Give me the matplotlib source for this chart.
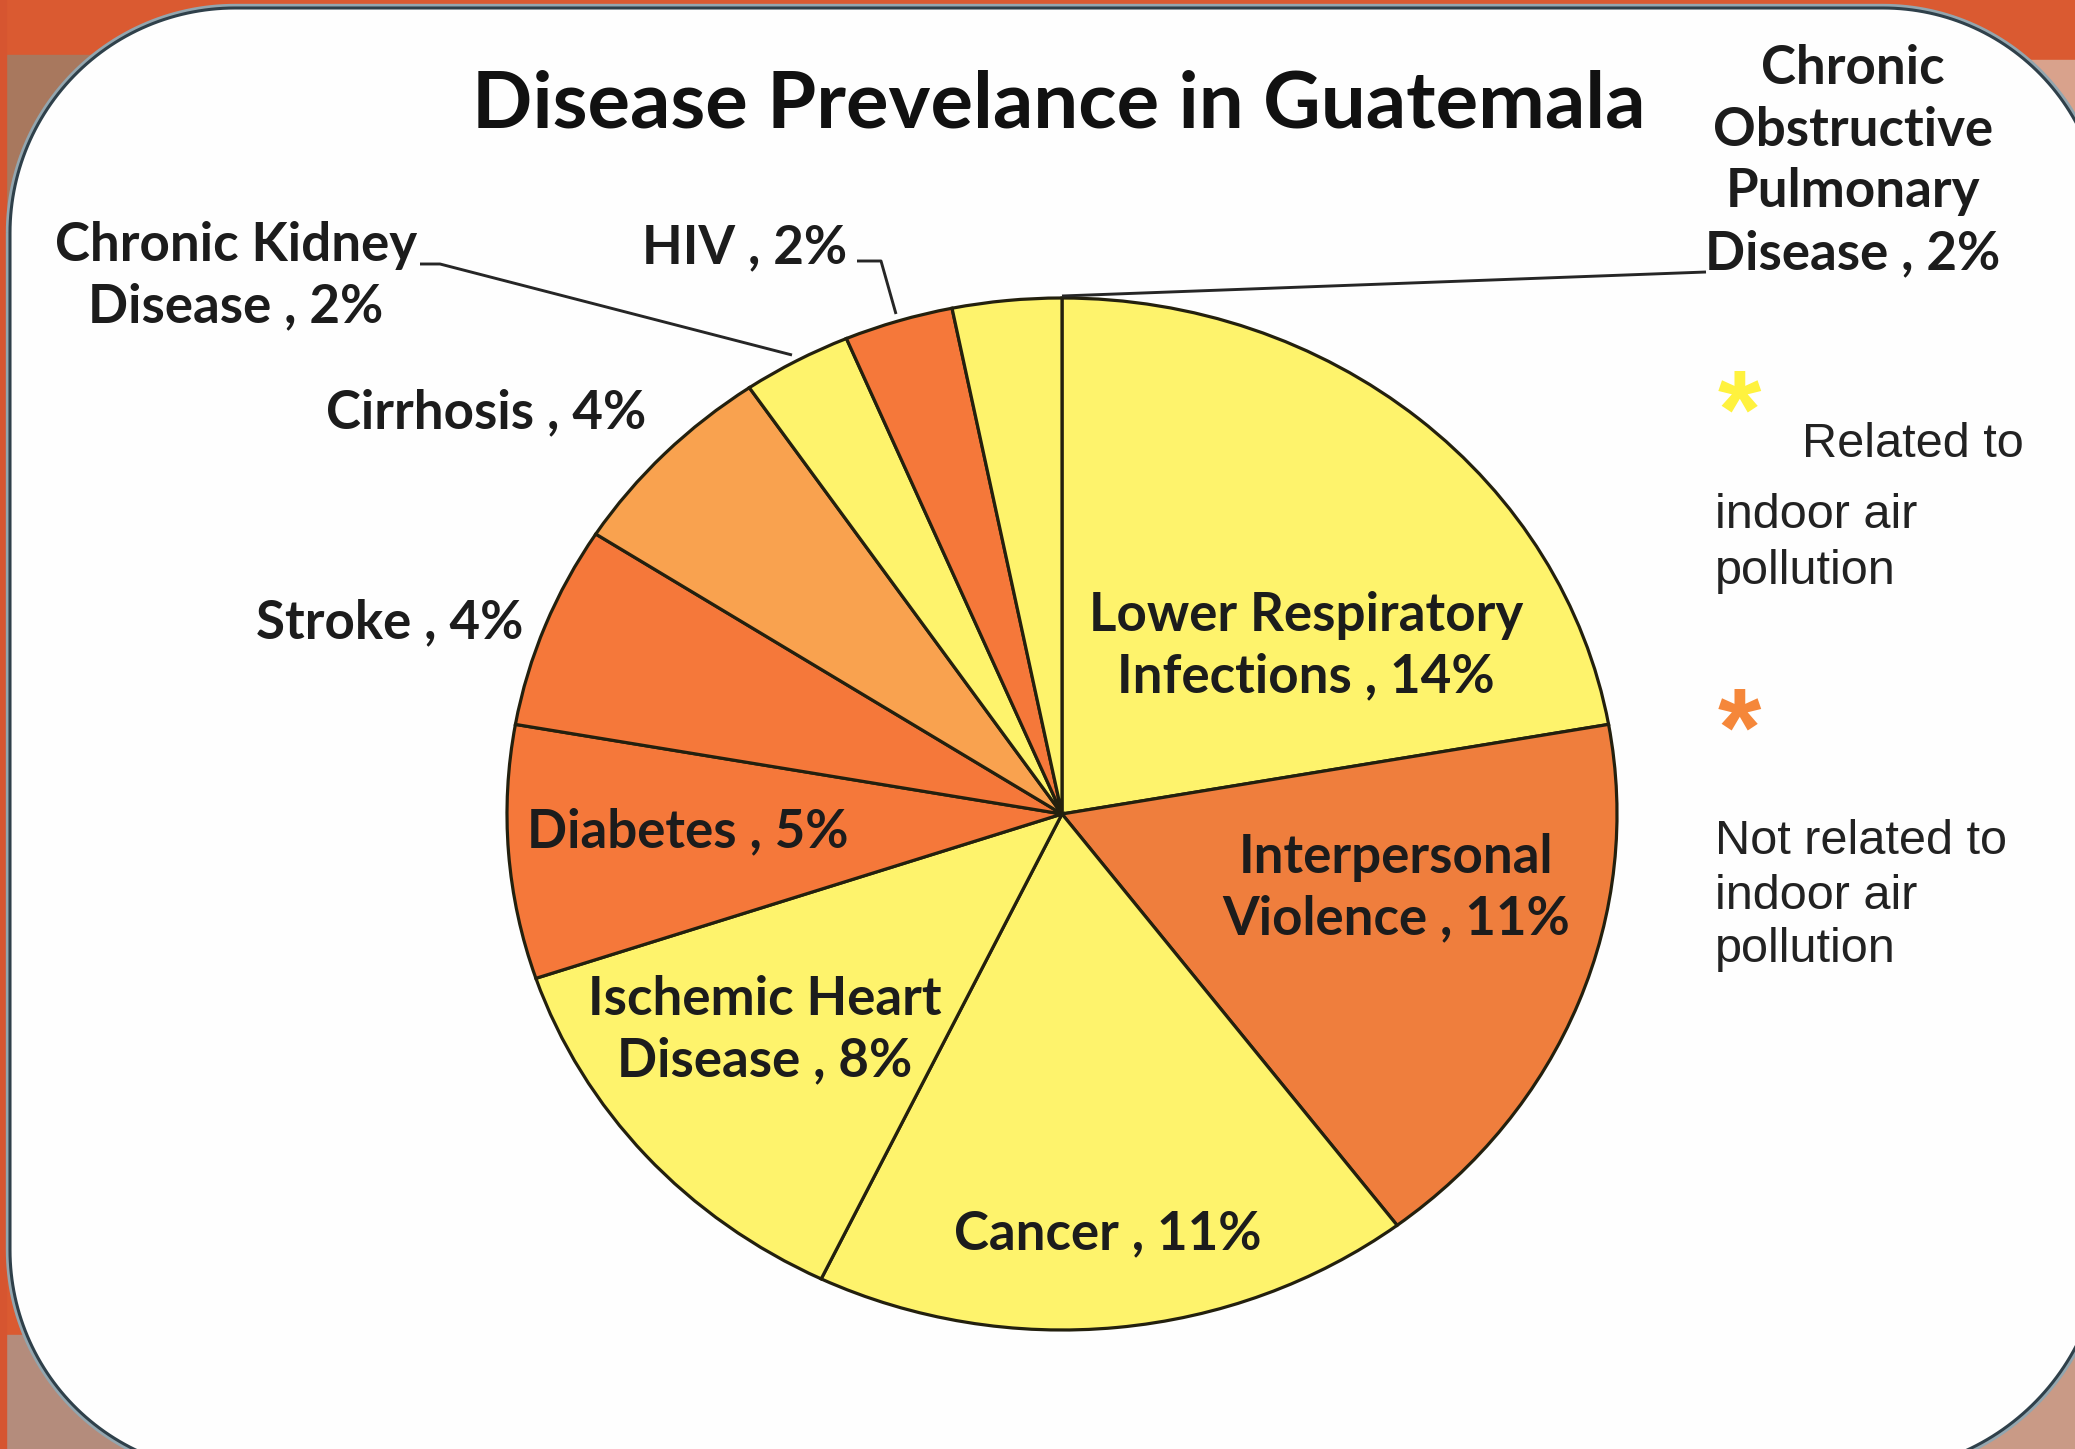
import numpy as np
import matplotlib
matplotlib.use("Agg")
import matplotlib.pyplot as plt
from matplotlib.patches import Polygon, Rectangle

# ---------------- data ----------------
categories = ["Lower Respiratory\nInfections", "Interpersonal\nViolence", "Cancer",
              "Ischemic Heart\nDisease", "Diabetes", "Stroke", "Cirrhosis",
              "Chronic Kidney\nDisease", "HIV", "Chronic\nObstructive\nPulmonary\nDisease"]
values = [14, 11, 11, 8, 5, 4, 4, 2, 2, 2]
slice_colors = ["#FEF36C", "#EF7E3D", "#FEF36C", "#FEF36C", "#F5783A",
                "#F5783A", "#F9A24F", "#FEF36C", "#F5783A", "#FEF36C"]
title = "Disease Prevelance in Guatemala"
legend_lines_1 = ["Related to", "indoor air", "pollution"]
legend_lines_2 = ["Not related to", "indoor air", "pollution"]

# ---------------- layout (pixels, y downward) ----------------
W, H = 2075, 1449
label_pos = [(1306, 646), (1396, 888), (1108, 1234), (765, 1030), (688, 832),
             (390, 623), (486, 413), (236, 276), (745, 248), (1853, 161)]

fig = plt.figure(figsize=(W / 100, H / 100), dpi=100)

# background axes
bg = fig.add_axes([0, 0, 1, 1])
bg.set_xlim(0, W)
bg.set_ylim(H, 0)
bg.axis("off")
bg.add_patch(Rectangle((0, 0), W, H, color="#DA5A31", zorder=0))
bg.add_patch(Rectangle((0, 55), 200, 200, color="#A8785E", zorder=0.5))
bg.add_patch(Rectangle((0, 1335), 320, 120, color="#B48C7C", zorder=0.5))
bg.add_patch(Rectangle((1880, 60), 200, 260, color="#D9A28C", zorder=0.5))
bg.add_patch(Rectangle((1850, 1290), 230, 160, color="#C99A86", zorder=0.5))
bg.add_patch(Rectangle((0, 0), 6, H, color="#D65530", zorder=0.6))


def rounded_box(x0, y0, x1, y1, r_tl, r_tr, r_br, r_bl, n=60):
    pts = []
    def arc(cx, cy, r, a0, a1):
        t = np.linspace(np.radians(a0), np.radians(a1), n)
        return np.column_stack([cx + r * np.cos(t), cy + r * np.sin(t)])
    pts.append(arc(x0 + r_tl, y0 + r_tl, r_tl, 180, 270))
    pts.append(arc(x1 - r_tr, y0 + r_tr, r_tr, 270, 360))
    pts.append(arc(x1 - r_br, y1 - r_br, r_br, 0, 90))
    pts.append(arc(x0 + r_bl, y1 - r_bl, r_bl, 90, 180))
    return np.vstack(pts)

box = rounded_box(10, 8, 2103, 1472, 225, 220, 235, 222)
bg.add_patch(Polygon(box, closed=True, facecolor="none", edgecolor="#93A6AF",
                     linewidth=6, zorder=1))
bg.add_patch(Polygon(box, closed=True, facecolor="#FEFEFE", edgecolor="#2F404A",
                     linewidth=2.2, zorder=2))

# pie axes (ellipse)
px0, px1, py0, py1 = 507, 1617, 298, 1330
pie_ax = fig.add_axes([px0 / W, 1 - py1 / H, (px1 - px0) / W, (py1 - py0) / H])
wedges, _ = pie_ax.pie(values, colors=slice_colors, startangle=90, counterclock=False,
                       wedgeprops=dict(edgecolor="#23200E", linewidth=2.3))
for w in wedges:
    w.set_clip_on(False)
pie_ax.set_aspect("auto")
pie_ax.set_xlim(-1, 1)
pie_ax.set_ylim(-1, 1)
pie_ax.axis("off")

# overlay axes for text
ov = fig.add_axes([0, 0, 1, 1])
ov.set_xlim(0, W)
ov.set_ylim(H, 0)
ov.axis("off")
ov.patch.set_alpha(0)

renderer = fig.canvas.get_renderer()
LBL_FONT = "Lato"

def fit_size(text, target, weight="bold", family=LBL_FONT, base=40):
    t = ov.text(0, 0, text, fontsize=base, fontweight=weight, family=family)
    wpx = t.get_window_extent(renderer).width
    t.remove()
    return base * target / wpx

title_fs = fit_size(title, 1171)
label_fs = fit_size("Lower Respiratory", 434)

ov.text(1059, 106, title, fontsize=title_fs, fontweight="bold", family=LBL_FONT,
        ha="center", va="center", color="#111111")

for cat, v, (x, y) in zip(categories, values, label_pos):
    ov.text(x, y, f"{cat} , {v}%", fontsize=label_fs, fontweight="bold", family=LBL_FONT,
            ha="center", va="center", color="#1C1C1C", linespacing=1.32)

# leader lines
lc = "#262626"
ov.plot([420, 440, 792], [264, 264, 355], color=lc, lw=2.1, solid_capstyle="butt")
ov.plot([857, 881, 896], [261, 261, 314], color=lc, lw=2.1, solid_capstyle="butt")
ov.plot([1706, 1062], [272, 296], color=lc, lw=2.1, solid_capstyle="butt")

# legend
leg_font = "Liberation Sans"
ov.text(1739, 388 + 60, "*", fontsize=80, fontweight="bold", family=leg_font,
        color="#FFF23E", ha="center", va="baseline")
ov.text(1739, 706 + 60, "*", fontsize=80, fontweight="bold", family=leg_font,
        color="#F5873A", ha="center", va="baseline")
leg_fs = 35
ov.text(1802, 457, legend_lines_1[0], fontsize=leg_fs, family=leg_font, color="#222222", va="baseline")
ov.text(1715, 528, legend_lines_1[1], fontsize=leg_fs, family=leg_font, color="#222222", va="baseline")
ov.text(1715, 584, legend_lines_1[2], fontsize=leg_fs, family=leg_font, color="#222222", va="baseline")
ov.text(1715, 854, legend_lines_2[0], fontsize=leg_fs, family=leg_font, color="#222222", va="baseline")
ov.text(1715, 909, legend_lines_2[1], fontsize=leg_fs, family=leg_font, color="#222222", va="baseline")
ov.text(1715, 962, legend_lines_2[2], fontsize=leg_fs, family=leg_font, color="#222222", va="baseline")

fig.savefig("out.png", dpi=100)
